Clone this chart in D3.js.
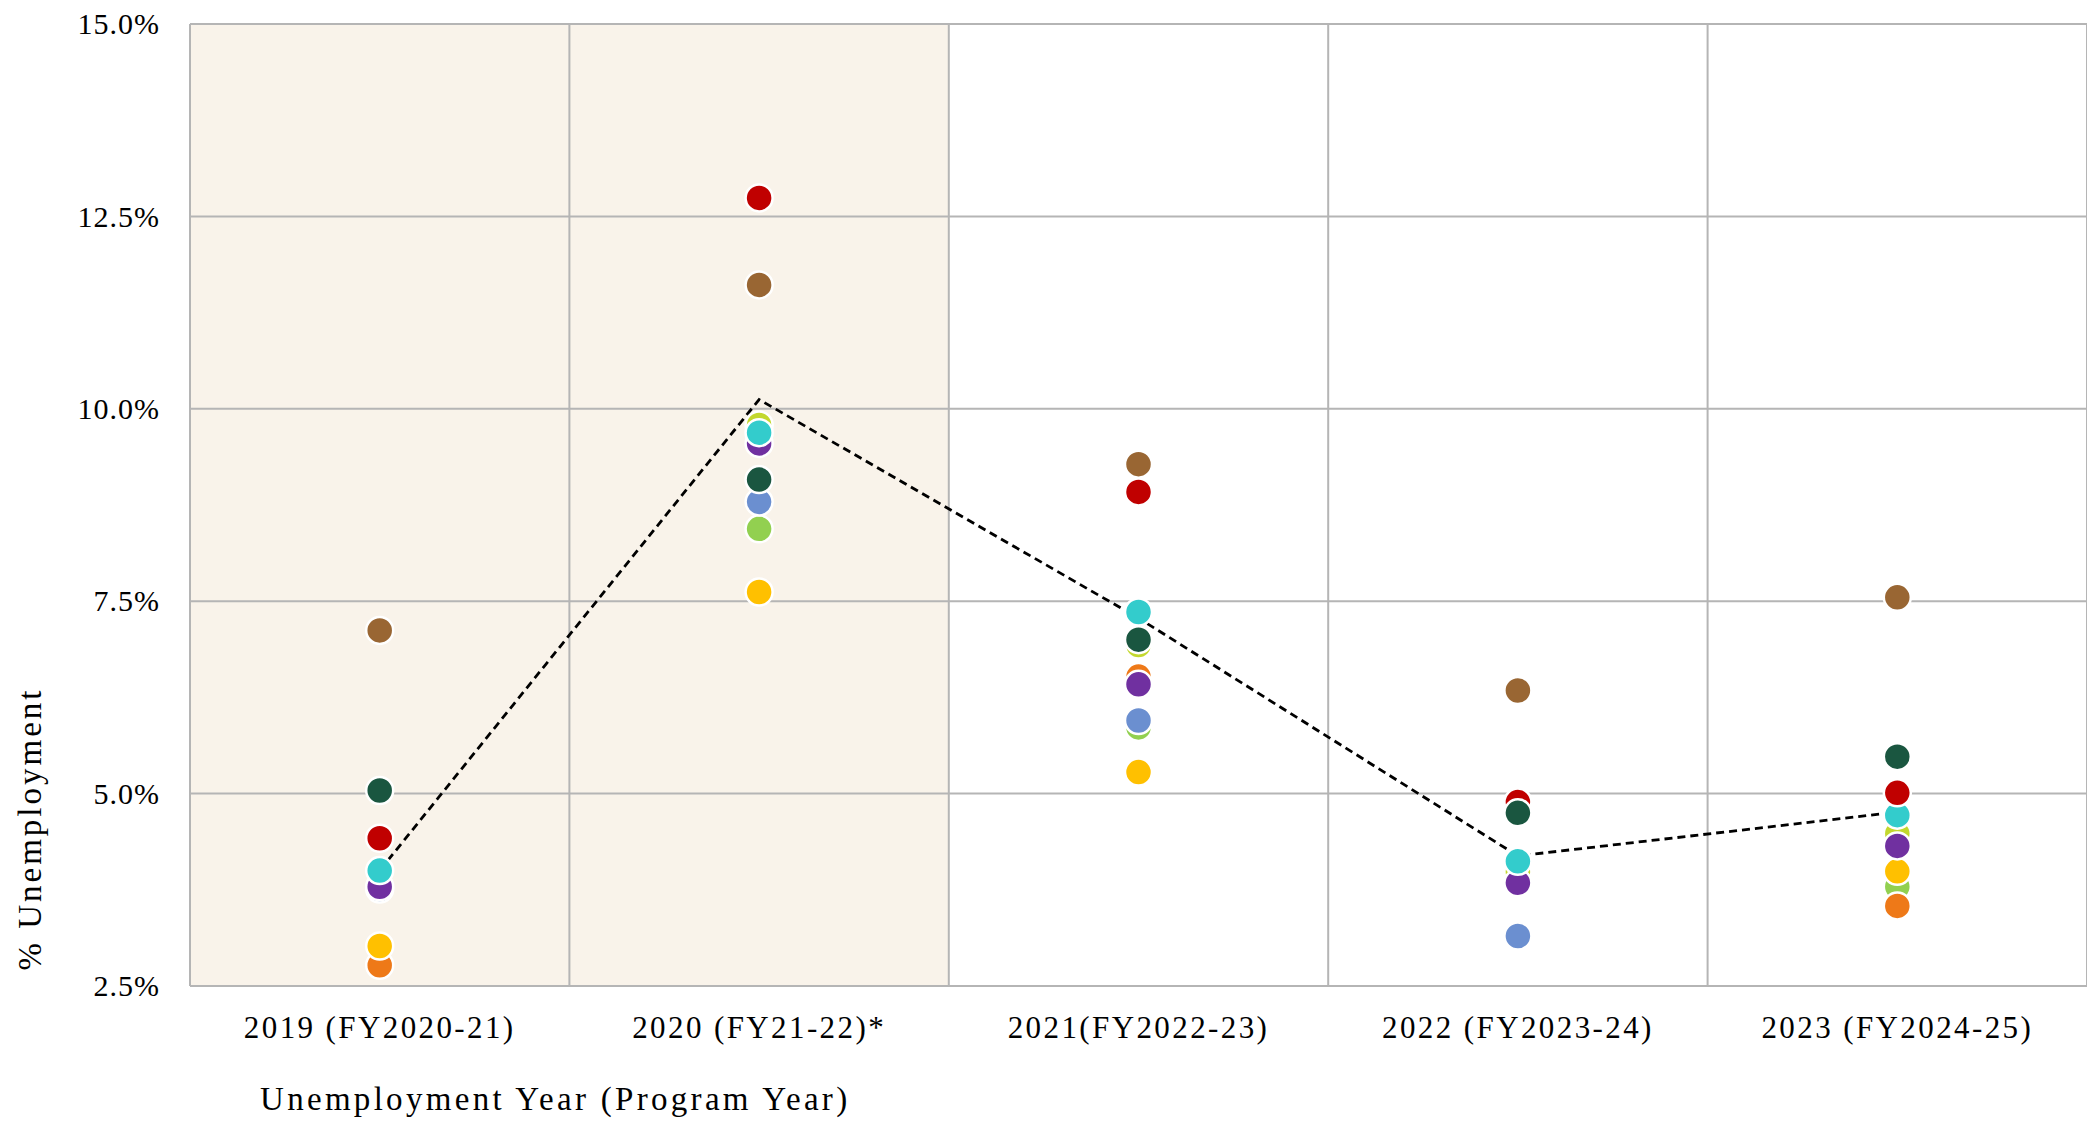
<!DOCTYPE html>
<html>
<head>
<meta charset="utf-8">
<script src="https://cdn.jsdelivr.net/npm/d3@7"></script>
<style>
  html, body { margin: 0; padding: 0; background: #ffffff; }
  svg { display: block; }
  text { font-family: "Liberation Serif", "Times New Roman", serif; fill: #000; }
</style>
</head>
<body>
<svg id="chart" width="2087" height="1125"></svg>
<script>
// ---- Data ----
const categories = ["2019 (FY2020-21)", "2020 (FY21-22)*", "2021(FY2022-23)", "2022 (FY2023-24)", "2023 (FY2024-25)"];
const shadedCategories = ["2019 (FY2020-21)", "2020 (FY21-22)*"];
const yTickValues = [2.5, 5, 7.5, 10, 12.5, 15];
const yTickLabels = ["2.5%", "5.0%", "7.5%", "10.0%", "12.5%", "15.0%"];

// series values (% unemployment), listed in drawing order (bottom to top)
const seriesLightGreen  = [null, 8.44, 5.86, null, 3.79];
const seriesYellowGreen = [null, 9.79, 6.93, 3.98, 4.48];
const seriesOrange      = [2.77, null, 6.52, null, 3.54];
const seriesLightBlue   = [3.76, 8.79, 5.95, 3.15, null];
const seriesYellow      = [3.02, 7.62, 5.28, null, 3.99];
const seriesPurple      = [3.79, 9.55, 6.42, 3.84, 4.32];
const seriesCyan        = [4.00, 9.69, 7.36, 4.12, 4.72];
const seriesRed         = [4.42, 12.74, 8.92, 4.89, 5.01];
const seriesDarkGreen   = [5.04, 9.08, 7.00, 4.75, 5.48];
const seriesBrown       = [7.12, 11.61, 9.28, 6.34, 7.55];
const averageLine       = [4.00, 10.12, 7.28, 4.19, 4.76];

const seriesList = [
  {values: seriesLightGreen,  color: "#92D050"},
  {values: seriesYellowGreen, color: "#C3D82E"},
  {values: seriesOrange,      color: "#EE7918"},
  {values: seriesLightBlue,   color: "#6B8FD0"},
  {values: seriesYellow,      color: "#FFC000"},
  {values: seriesPurple,      color: "#7030A0"},
  {values: seriesCyan,        color: "#33CCCC"},
  {values: seriesRed,         color: "#C00000"},
  {values: seriesDarkGreen,   color: "#1A5640"},
  {values: seriesBrown,       color: "#996633"}
];

// ---- Layout ----
const plot = {left: 190, right: 2087, top: 24, bottom: 986};
const svg = d3.select("#chart");

const x = d3.scaleBand().domain(categories).range([plot.left, plot.right]).padding(0);
const y = d3.scaleLinear().domain([2.5, 15]).range([plot.bottom, plot.top]);
const cx = c => x(c) + x.bandwidth() / 2;

// shaded background
svg.append("rect")
  .attr("x", x(shadedCategories[0]))
  .attr("y", plot.top)
  .attr("width", x(shadedCategories[shadedCategories.length - 1]) + x.bandwidth() - x(shadedCategories[0]))
  .attr("height", plot.bottom - plot.top)
  .attr("fill", "#F9F3EA");

const gridColor = "#B5B5B5";
// horizontal gridlines
svg.append("g").selectAll("line").data(yTickValues).join("line")
  .attr("x1", plot.left).attr("x2", plot.right)
  .attr("y1", d => y(d)).attr("y2", d => y(d))
  .attr("stroke", gridColor).attr("stroke-width", 2);

// vertical gridlines at band boundaries
const bounds = categories.map(c => x(c)).concat([plot.right]);
svg.append("g").selectAll("line").data(bounds).join("line")
  .attr("x1", d => d).attr("x2", d => d)
  .attr("y1", plot.top).attr("y2", plot.bottom)
  .attr("stroke", gridColor).attr("stroke-width", 2);

// y axis labels
const yAxis = d3.axisLeft(y).tickValues(yTickValues)
  .tickFormat((d, i) => yTickLabels[i]).tickSize(0).tickPadding(30);
const gy = svg.append("g").attr("transform", `translate(${plot.left},0)`).call(yAxis);
gy.select(".domain").remove();
gy.selectAll("text")
  .style("font-family", '"Liberation Serif", "Times New Roman", serif')
  .style("font-size", "30px").style("letter-spacing", "1px").attr("fill", "#000");

// x axis labels
const xAxis = d3.axisBottom(x).tickSize(0).tickPadding(30);
const gx = svg.append("g").attr("transform", `translate(0,${plot.bottom})`).call(xAxis);
gx.select(".domain").remove();
gx.selectAll("text")
  .style("font-family", '"Liberation Serif", "Times New Roman", serif')
  .style("font-size", "31px").style("letter-spacing", "2.4px").attr("fill", "#000");

// dashed average line (below points)
const line = d3.line().x((d, i) => cx(categories[i])).y(d => y(d));
svg.append("path").datum(averageLine)
  .attr("d", line).attr("fill", "none")
  .attr("stroke", "#000").attr("stroke-width", 2.8)
  .attr("stroke-dasharray", "8,5");

// points
seriesList.forEach(s => {
  const pts = s.values.map((v, i) => ({c: categories[i], v})).filter(d => d.v != null);
  svg.append("g").selectAll("circle").data(pts).join("circle")
    .attr("cx", d => cx(d.c)).attr("cy", d => y(d.v))
    .attr("r", 13.5)
    .attr("fill", s.color)
    .attr("stroke", "#fff").attr("stroke-width", 2.5);
});

// axis titles
svg.append("text")
  .attr("x", 260).attr("y", 1110)
  .style("font-size", "33px").style("letter-spacing", "3.3px")
  .text("Unemployment Year (Program Year)");

svg.append("text")
  .attr("transform", "translate(41,829) rotate(-90)")
  .attr("text-anchor", "middle")
  .style("font-size", "33px").style("letter-spacing", "3px")
  .text("% Unemployment");
</script>
</body>
</html>
